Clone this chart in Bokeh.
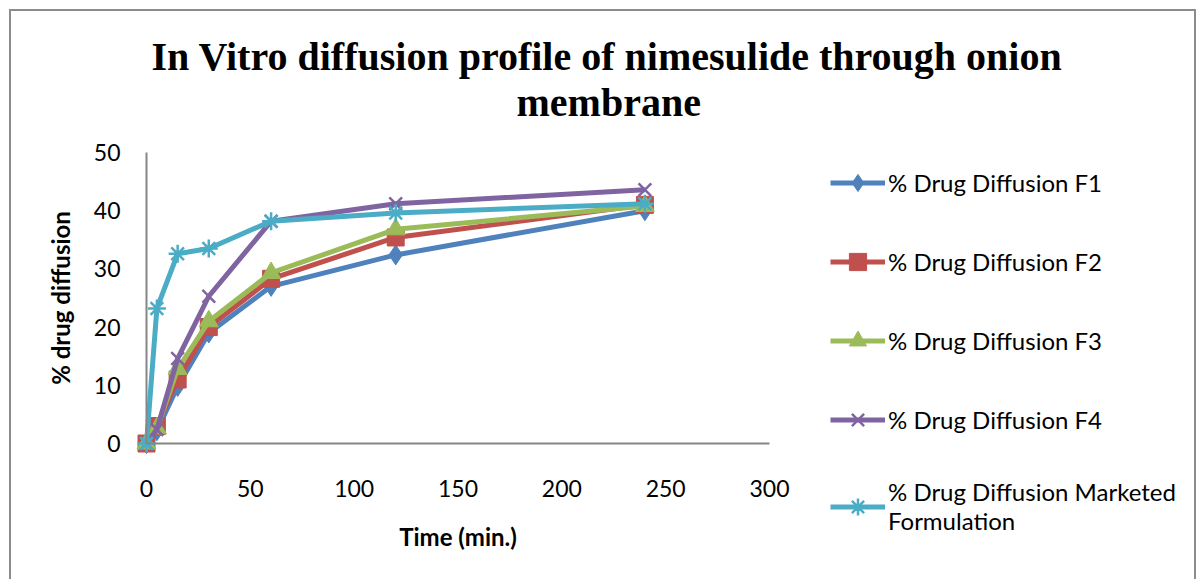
from bokeh.plotting import figure
from bokeh.models import Title, Legend, LegendItem, FixedTicker, Range1d
from bokeh.embed import file_html
from bokeh.resources import INLINE

time_min = [0, 5, 15, 30, 60, 120, 240]
f1 = [0, 2.2, 9.8, 19.0, 27.0, 32.4, 40.0]
f2 = [0, 3.0, 11.0, 20.0, 28.3, 35.4, 41.0]
f3 = [0, 2.6, 12.8, 21.0, 29.3, 36.8, 40.8]
f4 = [0, 2.4, 14.6, 25.3, 38.2, 41.2, 43.6]
marketed = [0, 23.2, 32.6, 33.5, 38.2, 39.6, 41.2]

series_names = ["% Drug Diffusion F1", "% Drug Diffusion F2", "% Drug Diffusion F3",
                "% Drug Diffusion F4", "% Drug Diffusion Marketed\nFormulation"]
x_ticks = [0, 50, 100, 150, 200, 250, 300]
y_ticks = [0, 10, 20, 30, 40, 50]
x_bounds = (0, 300)
y_bounds = (0, 50)

colors = ["#4F81BD", "#C0504D", "#9BBB59", "#8064A2", "#4BACC6"]
markers = ["diamond", "square", "triangle", "x", "asterisk"]
sizes = [20, 17, 19, 18, 18]

FONT = "Lato"
GRAY = "#868686"

# layout (pixels)
FRAME_W, FRAME_H = 1181, 442
AXIS_X_PX, AXIS_Y_PX = 623, 291      # drawn length of the axes
AXIS_LEFT_PAD, AXIS_TOP_PAD = 135, 17  # axes origin offsets inside the frame
x_scale = (x_bounds[1] - x_bounds[0]) / AXIS_X_PX
y_scale = (y_bounds[1] - y_bounds[0]) / AXIS_Y_PX
x_start = x_bounds[0] - AXIS_LEFT_PAD * x_scale
x_end = x_start + FRAME_W * x_scale
y_end = y_bounds[1] + AXIS_TOP_PAD * y_scale
y_start = y_end - FRAME_H * y_scale

p = figure(frame_width=FRAME_W, frame_height=FRAME_H, output_backend="svg",
           toolbar_location=None, title=None,
           x_range=Range1d(x_start, x_end), y_range=Range1d(y_start, y_end),
           min_border_left=0, min_border_right=2, min_border_top=124,
           min_border_bottom=2)
p.styles = {"margin-left": "9px", "margin-top": "9px",
            "border-left": "2px solid #8c8c8c", "border-top": "2px solid #8c8c8c",
            "border-right": "2px solid #8c8c8c"}
p.outline_line_color = None
p.xgrid.visible = False
p.ygrid.visible = False

t2 = Title(text="membrane", align="left", offset=505, text_color="#000000",
           text_font="Liberation Serif", text_font_size="40px", text_font_style="bold",
           standoff=21)
t1 = Title(text="In Vitro diffusion profile of  nimesulide through onion", align="left",
           offset=140, text_color="#000000", text_font="Liberation Serif",
           text_font_size="40px", text_font_style="bold", standoff=-22)
p.add_layout(t2, "above")
p.add_layout(t1, "above")

for ax in (p.xaxis[0], p.yaxis[0]):
    ax.axis_line_color = GRAY
    ax.axis_line_width = 2
    ax.major_tick_line_color = None
    ax.minor_tick_line_color = None
    ax.major_label_text_font = FONT
    ax.major_label_text_font_size = "23px"
    ax.major_label_text_color = "#000000"
    ax.axis_label_text_font = FONT
    ax.axis_label_text_font_size = "24px"
    ax.axis_label_text_font_style = "bold"
    ax.axis_label_text_color = "#000000"

p.xaxis.ticker = FixedTicker(ticks=x_ticks)
p.yaxis.ticker = FixedTicker(ticks=y_ticks)
p.xaxis.bounds = x_bounds
p.yaxis.bounds = y_bounds
p.xaxis.fixed_location = 0
p.yaxis.fixed_location = 0
p.xaxis.axis_label = "Time (min.)"
p.yaxis.axis_label = "% drug diffusion"
p.xaxis.major_label_standoff = 30
p.xaxis.axis_label_standoff = 22
p.yaxis.major_label_standoff = 20
p.yaxis.axis_label_standoff = 16

items = []
for vals, name, c, m, s in zip([f1, f2, f3, f4, marketed], series_names, colors, markers, sizes):
    ln = p.line(time_min, vals, line_color=c, line_width=5)
    sc = p.scatter(time_min, vals, marker=m, size=s, fill_color=c, line_color=c,
                   line_width=2.5 if m in ("x", "asterisk") else 1)
    items.append(LegendItem(label=name, renderers=[ln, sc]))

legend = Legend(items=items, location=(819, 42), padding=0, margin=0,
                border_line_color=None, background_fill_alpha=0,
                label_text_font=FONT, label_text_font_size="24px",
                label_text_color="#000000", label_text_line_height=1.35,
                glyph_width=55, glyph_height=43, label_height=43, spacing=36,
                label_standoff=3)
p.add_layout(legend, "center")

open("out.html", "w").write(file_html(p, INLINE))
